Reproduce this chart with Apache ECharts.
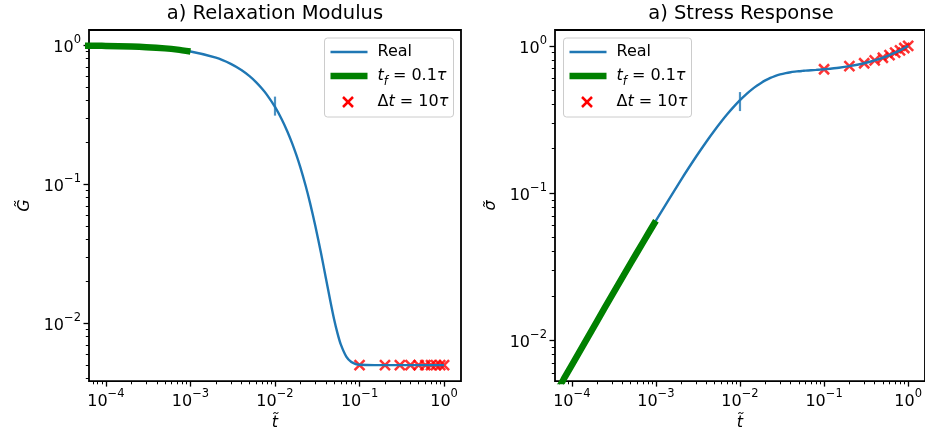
<!DOCTYPE html>
<html>
<head>
<meta charset="utf-8">
<script src="https://cdn.jsdelivr.net/npm/echarts@6/dist/echarts.min.js"></script>
<style>
  html, body { margin: 0; padding: 0; background: #ffffff; }
  #chart { width: 925px; height: 436px; }
</style>
</head>
<body>
<div id="chart"></div>
<script>
// ---- sampled curves -------------------------------------------------------
// dimensionless time samples for the exact ("Real") response
const tReal = [1e-4, 2e-4, 5e-4, 1e-3, 2e-3, 3e-3, 4e-3, 5e-3, 6e-3, 7e-3, 8e-3,
  0.01, 0.012, 0.014, 0.016, 0.018, 0.02, 0.023, 0.026, 0.03, 0.035, 0.04, 0.045,
  0.05, 0.055, 0.06, 0.07, 0.08, 0.09, 0.1, 0.15, 0.2, 0.3, 0.4, 0.5, 0.6, 0.7, 0.8, 0.9, 1.0];
// relaxation modulus G~(t)
const gReal = [0.9898, 0.9797, 0.9500, 0.9025, 0.8146, 0.7353, 0.6638, 0.5993, 0.5410, 0.4885, 0.4412,
  0.3599, 0.2938, 0.2400, 0.1962, 0.1606, 0.1316, 0.0979, 0.0732, 0.0501, 0.0320, 0.0211, 0.0146,
  0.0107, 0.00843, 0.00705, 0.00573, 0.00526, 0.00509, 0.00503, 0.0050, 0.0050, 0.0050, 0.0050, 0.0050, 0.0050, 0.0050, 0.0050, 0.0050, 0.0050];
// stress response sigma~(t)
const sigmaReal = [0.00679, 0.01351, 0.03327, 0.06487, 0.1234, 0.1763, 0.2240, 0.2670, 0.3059, 0.3410, 0.3727,
  0.4272, 0.4717, 0.5080, 0.5376, 0.5619, 0.5818, 0.6051, 0.6225, 0.6391, 0.6528, 0.6617, 0.6675,
  0.6720, 0.6752, 0.6779, 0.6822, 0.6859, 0.6894, 0.6929, 0.7099, 0.7270, 0.7611, 0.7952, 0.8294, 0.8635, 0.8976, 0.9317, 0.9659, 1.0];

// short-time solution, t_f = 0.1 tau
const tFast = [5e-5, 6e-5, 7e-5, 8e-5, 1e-4, 2e-4, 3e-4, 5e-4, 7e-4, 1e-3];
const gFast = [0.9949, 0.9939, 0.9928, 0.9918, 0.9898, 0.9797, 0.9697, 0.9500, 0.9307, 0.9025];
const sigmaFast = [0.00340, 0.00408, 0.00476, 0.00544, 0.00679, 0.01351, 0.02017, 0.03327, 0.04610, 0.06487];

// coarse step solution, delta t = 10 tau
const tStep = [0.1, 0.2, 0.3, 0.4, 0.5, 0.6, 0.7, 0.8, 0.9, 1.0];
const gStep = [0.005, 0.005, 0.005, 0.005, 0.005, 0.005, 0.005, 0.005, 0.005, 0.005];
const sigmaStep = [0.6929, 0.7270, 0.7611, 0.7952, 0.8294, 0.8635, 0.8976, 0.9317, 0.9659, 1.0];

// characteristic time marker
const tMark = [0.01];
const gMark = [0.365];
const sigmaMark = [0.418];

// ---- ticks ----------------------------------------------------------------
const majorX = [1e-4, 1e-3, 1e-2, 1e-1, 1];
const minorX = [7e-5, 8e-5, 9e-5,
  2e-4, 3e-4, 4e-4, 5e-4, 6e-4, 7e-4, 8e-4, 9e-4,
  2e-3, 3e-3, 4e-3, 5e-3, 6e-3, 7e-3, 8e-3, 9e-3,
  0.02, 0.03, 0.04, 0.05, 0.06, 0.07, 0.08, 0.09,
  0.2, 0.3, 0.4, 0.5, 0.6, 0.7, 0.8, 0.9];
const majorY = [1e-2, 1e-1, 1];
const minorYLeft = [0.004, 0.005, 0.006, 0.007, 0.008, 0.009,
  0.02, 0.03, 0.04, 0.05, 0.06, 0.07, 0.08, 0.09,
  0.2, 0.3, 0.4, 0.5, 0.6, 0.7, 0.8, 0.9];
const minorYRight = [0.006, 0.007, 0.008, 0.009,
  0.02, 0.03, 0.04, 0.05, 0.06, 0.07, 0.08, 0.09,
  0.2, 0.3, 0.4, 0.5, 0.6, 0.7, 0.8, 0.9];

// axis limits
const xLim = [6.31e-5, 1.585];
const yLimLeft = [0.003837, 1.288];
const yLimRight = [0.005284, 1.28];

// ---- styling --------------------------------------------------------------
const FONT = 'DejaVu Sans';
const BLUE = '#1f77b4';
const GREEN = '#008000';
const RED = '#ff0000';

const pairs = (xs, ys) => xs.map((x, i) => [x, ys[i]]);

function powLabel(v) {
  const e = Math.round(Math.log10(v));
  return '{b|10}{s|' + (e < 0 ? '\u2212' + (-e) : String(e)) + '}';
}
const labelRich = {
  b: { fontSize: 16, fontFamily: FONT, color: '#000', lineHeight: 22, verticalAlign: 'bottom' },
  s: { fontSize: 11.5, fontFamily: FONT, color: '#000', verticalAlign: 'top' }
};

function majorAxis(dim, gridIndex, lim, ticks, name, nameGap) {
  return {
    type: 'log', logBase: 10, gridIndex: gridIndex, min: lim[0], max: lim[1],
    position: dim === 'x' ? 'bottom' : 'left',
    axisLine: { show: false },
    splitLine: { show: false },
    axisTick: { show: true, customValues: ticks, length: 5.5, lineStyle: { color: '#000', width: 1.3 } },
    axisLabel: {
      show: true, customValues: ticks, formatter: powLabel, rich: labelRich,
      margin: dim === 'x' ? 7 : 8, color: '#000', fontFamily: FONT,
      showMinLabel: true, showMaxLabel: true, hideOverlap: false
    },
    name: name, nameLocation: 'middle', nameGap: nameGap,
    nameRotate: dim === 'x' ? 0 : 90,
    nameTextStyle: { fontSize: 16, fontStyle: 'italic', fontFamily: FONT, color: '#000' }
  };
}
function minorAxis(dim, gridIndex, lim, ticks) {
  return {
    type: 'log', logBase: 10, gridIndex: gridIndex, min: lim[0], max: lim[1],
    position: dim === 'x' ? 'bottom' : 'left',
    axisLine: { show: false },
    splitLine: { show: false },
    axisTick: { show: true, customValues: ticks, length: 3.2, lineStyle: { color: '#000', width: 1.0 } },
    axisLabel: { show: false }
  };
}

const crossSymbol = 'path://M0,0L1,1M1,0L0,1';

function panelSeries(axisIdx, yReal, yFast, yStep, yMark) {
  return [
    {
      type: 'scatter', name: '\u0394t = 10\u03c4', xAxisIndex: axisIdx, yAxisIndex: axisIdx,
      data: pairs(tStep, yStep), symbol: crossSymbol, symbolSize: 10, z: 1,
      itemStyle: { color: 'rgba(0,0,0,0)', borderColor: RED, borderWidth: 2.5 }
    },
    {
      type: 'line', name: 'Real', xAxisIndex: axisIdx, yAxisIndex: axisIdx,
      data: pairs(tReal, yReal), showSymbol: false, symbol: 'none', smooth: 0.25, z: 2,
      lineStyle: { color: BLUE, width: 2.4 }
    },
    {
      type: 'scatter', xAxisIndex: axisIdx, yAxisIndex: axisIdx,
      data: pairs(tMark, yMark), symbol: 'rect', symbolSize: [2.2, 19], z: 2,
      itemStyle: { color: BLUE }
    },
    {
      type: 'line', name: 't_f = 0.1\u03c4', xAxisIndex: axisIdx, yAxisIndex: axisIdx,
      data: pairs(tFast, yFast), showSymbol: false, symbol: 'none', smooth: 0.25, z: 3,
      lineStyle: { color: GREEN, width: 6.5, cap: 'butt' }
    }
  ];
}

// legend drawn as a framed box of graphic elements
const legendRich = {
  n: { fontSize: 16, fontFamily: FONT, color: '#000' },
  i: { fontSize: 16, fontFamily: FONT, fontStyle: 'italic', color: '#000' },
  sub: { fontSize: 11.5, fontFamily: FONT, fontStyle: 'italic', color: '#000', verticalAlign: 'bottom', lineHeight: 24 }
};
function legendBox(x0, y0, w, h) {
  const lx = x0 + 6, lw = 37, tx = x0 + 53, cx = x0 + 23.5, cy = y0 + 64;
  return {
    type: 'group', children: [
      { type: 'rect', shape: { x: x0, y: y0, width: w, height: h, r: 3 },
        style: { fill: 'rgba(255,255,255,0.8)', stroke: '#cccccc', lineWidth: 1 } },
      { type: 'line', shape: { x1: lx, y1: y0 + 14, x2: lx + lw, y2: y0 + 14 },
        style: { stroke: BLUE, lineWidth: 2.4 } },
      { type: 'text', x: tx, y: y0 + 14,
        style: { text: 'Real', font: '16px "' + FONT + '"', fill: '#000', verticalAlign: 'middle' } },
      { type: 'line', shape: { x1: lx, y1: y0 + 38, x2: lx + lw, y2: y0 + 38 },
        style: { stroke: GREEN, lineWidth: 6.5 } },
      { type: 'text', x: tx, y: y0 + 38,
        style: { text: '{i|t}{sub|f}{n| = 0.1}{i|\u03c4}', rich: legendRich, verticalAlign: 'middle' } },
      { type: 'line', shape: { x1: cx - 5, y1: cy - 5, x2: cx + 5, y2: cy + 5 },
        style: { stroke: RED, lineWidth: 2.5 } },
      { type: 'line', shape: { x1: cx - 5, y1: cy + 5, x2: cx + 5, y2: cy - 5 },
        style: { stroke: RED, lineWidth: 2.5 } },
      { type: 'text', x: tx, y: cy,
        style: { text: '{n|\u0394}{i|t}{n| = 10}{i|\u03c4}', rich: legendRich, verticalAlign: 'middle' } }
    ]
  };
}

const chart = echarts.init(document.getElementById('chart'), null, { renderer: 'canvas' });
chart.setOption({
  animation: false,
  backgroundColor: '#ffffff',
  grid: [
    { left: 89, top: 30, width: 372, height: 354, show: true, borderColor: '#000', borderWidth: 1.8, backgroundColor: 'transparent', containLabel: false },
    { left: 555, top: 30, width: 372, height: 354, show: true, borderColor: '#000', borderWidth: 1.8, backgroundColor: 'transparent', containLabel: false }
  ],
  xAxis: [
    majorAxis('x', 0, xLim, majorX, 't\u0303', 33),
    minorAxis('x', 0, xLim, minorX),
    majorAxis('x', 1, xLim, majorX, 't\u0303', 33),
    minorAxis('x', 1, xLim, minorX)
  ],
  yAxis: [
    majorAxis('y', 0, yLimLeft, majorY, 'G\u0303', 56),
    minorAxis('y', 0, yLimLeft, minorYLeft),
    majorAxis('y', 1, yLimRight, majorY, '\u03c3\u0303', 56),
    minorAxis('y', 1, yLimRight, minorYRight)
  ],
  series: [].concat(
    panelSeries(0, gReal, gFast, gStep, gMark),
    panelSeries(2, sigmaReal, sigmaFast, sigmaStep, sigmaMark)
  ),
  graphic: [
    { type: 'text', x: 275, y: 14, style: { text: 'a) Relaxation Modulus', font: '19.5px "' + FONT + '"', fill: '#000', align: 'center', verticalAlign: 'middle' } },
    { type: 'text', x: 741, y: 14, style: { text: 'a) Stress Response', font: '19.5px "' + FONT + '"', fill: '#000', align: 'center', verticalAlign: 'middle' } },
    legendBox(324.5, 38, 129, 79),
    legendBox(563.5, 38, 128, 79)
  ]
});
</script>
</body>
</html>
